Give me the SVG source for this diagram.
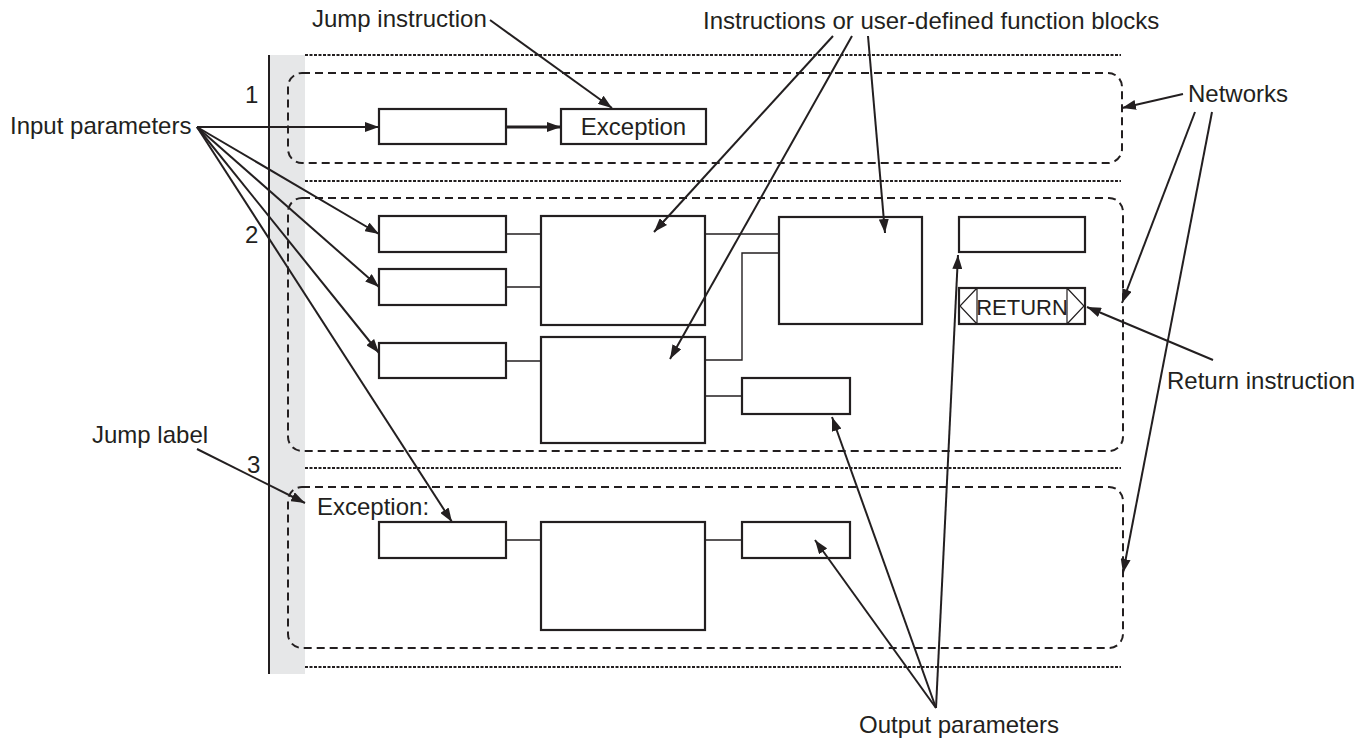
<svg xmlns="http://www.w3.org/2000/svg" width="1368" height="738" viewBox="0 0 1368 738">
<defs>
<marker id="ah" viewBox="0 0 14 10" refX="14" refY="5" markerWidth="14" markerHeight="10" markerUnits="userSpaceOnUse" orient="auto">
<path d="M0,0 L14,5 L0,10 Z" fill="#231f20"/>
</marker>
</defs>
<style>
text{font-family:"Liberation Sans",Arial,sans-serif;font-size:24px;fill:#231f20}
.box{fill:#fff;stroke:#231f20;stroke-width:2.2}
.net{fill:none;stroke:#231f20;stroke-width:2;stroke-dasharray:8 5}
.dot{fill:none;stroke:#231f20;stroke-width:1.8;stroke-dasharray:3 1.5}
.wire{fill:none;stroke:#231f20;stroke-width:1.4}
.ptr{fill:none;stroke:#231f20;stroke-width:2;marker-end:url(#ah)}
</style>
<rect width="1368" height="738" fill="#fff"/>
<g id="rail">
<rect x="270" y="55" width="35" height="619" fill="#e6e7e8"/>
<line x1="269" y1="55" x2="269" y2="674" stroke="#231f20" stroke-width="2"/>
<line class="dot" x1="305" y1="55" x2="1121" y2="55"/>
<line class="dot" x1="305" y1="181" x2="1121" y2="181"/>
<line class="dot" x1="305" y1="468" x2="1121" y2="468"/>
<line class="dot" x1="305" y1="667" x2="1121" y2="667"/>
<text x="245" y="103">1</text>
<text x="245" y="243">2</text>
<text x="247" y="473">3</text>
</g>
<g id="network1">
<rect class="net" x="288" y="73" width="834" height="90" rx="14"/>
<rect class="box" x="379" y="109" width="127" height="35"/>
<rect class="box" x="561" y="109" width="145" height="35"/>
<text x="633.5" y="135" text-anchor="middle">Exception</text>
</g>
<g id="network2">
<rect class="net" x="288" y="198" width="835" height="253" rx="14"/>
<rect class="box" x="379" y="216" width="127" height="36"/>
<rect class="box" x="379" y="269" width="127" height="36"/>
<rect class="box" x="379" y="343" width="127" height="35"/>
<rect class="box" x="541" y="216" width="164" height="109"/>
<rect class="box" x="541" y="337" width="164" height="106"/>
<rect class="box" x="779" y="217" width="143" height="107"/>
<rect class="box" x="959" y="217" width="126" height="35"/>
<rect class="box" x="742" y="378" width="108" height="36"/>
<g id="return">
<rect class="box" x="959" y="288" width="126" height="36"/>
<path d="M977,288 V324 M977,288 L960,306 L977,324 M1067,288 V324 M1067,288 L1084,306 L1067,324" fill="none" stroke="#231f20" stroke-width="1.2"/>
<text x="1022" y="315" text-anchor="middle" style="font-size:22px">RETURN</text>
</g>
</g>
<g id="network3">
<rect class="net" x="288" y="487" width="835" height="161" rx="14"/>
<text x="317" y="515">Exception:</text>
<rect class="box" x="379" y="522" width="127" height="36"/>
<rect class="box" x="541" y="522" width="164" height="108"/>
<rect class="box" x="742" y="522" width="108" height="36"/>
</g>
<g id="connectors">
<line x1="506" y1="127" x2="561" y2="127" stroke="#231f20" stroke-width="2.8" marker-end="url(#ah)"/>
<path class="wire" d="M506,234 H541 M506,287 H541 M506,361 H541 M705,234 H779 M705,360 H742 V253 H779 M705,396 H742 M506,540 H541 M705,540 H742"/>
</g>
<g id="labels">
<text x="10" y="134">Input parameters</text>
<text x="312" y="27">Jump instruction</text>
<text x="703" y="29">Instructions or user-defined function blocks</text>
<text x="1188" y="102">Networks</text>
<text x="1167" y="389">Return instruction</text>
<text x="92" y="443">Jump label</text>
<text x="859" y="733">Output parameters</text>
</g>
<g id="pointers">
<line class="ptr" x1="197" y1="127" x2="379" y2="127"/>
<line class="ptr" x1="197" y1="127" x2="379" y2="234"/>
<line class="ptr" x1="197" y1="127" x2="379" y2="287"/>
<line class="ptr" x1="197" y1="127" x2="379" y2="353"/>
<line class="ptr" x1="197" y1="127" x2="452" y2="522"/>
<line class="ptr" x1="490" y1="20" x2="612" y2="108"/>
<line class="ptr" x1="833" y1="36" x2="654" y2="232"/>
<line class="ptr" x1="852" y1="36" x2="670" y2="359"/>
<line class="ptr" x1="868" y1="36" x2="885" y2="233"/>
<line class="ptr" x1="1183" y1="94" x2="1122" y2="108"/>
<line class="ptr" x1="1195" y1="112" x2="1122" y2="303"/>
<line class="ptr" x1="1212" y1="112" x2="1123" y2="573"/>
<line class="ptr" x1="1213" y1="360" x2="1087" y2="307"/>
<line class="ptr" x1="197" y1="449" x2="305" y2="503"/>
<line class="ptr" x1="936" y1="708" x2="832" y2="417"/>
<line class="ptr" x1="936" y1="708" x2="815" y2="540"/>
<line class="ptr" x1="936" y1="708" x2="958" y2="255"/>
</g>
</svg>
